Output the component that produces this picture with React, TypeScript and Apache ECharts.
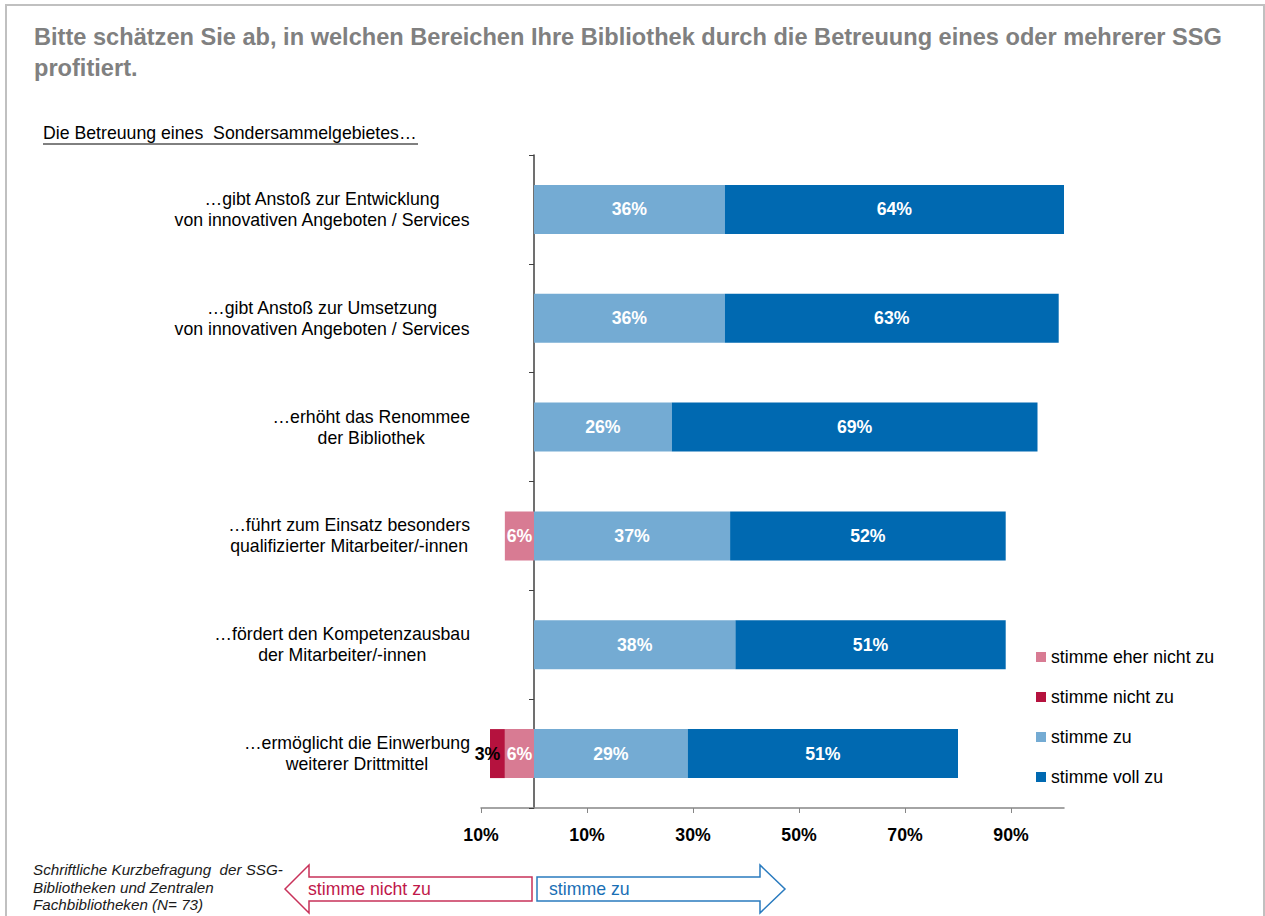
import React, { useEffect, useRef } from 'react';
import * as echarts from 'echarts';

const categories = [
  '…gibt Anstoß zur Entwicklung\nvon innovativen Angeboten / Services',
  '…gibt Anstoß zur Umsetzung\nvon innovativen Angeboten / Services',
  '…erhöht das Renommee\nder Bibliothek',
  '…führt zum Einsatz besonders\nqualifizierter Mitarbeiter/-innen',
  '…fördert den Kompetenzausbau\nder Mitarbeiter/-innen',
  '…ermöglicht die Einwerbung\nweiterer Drittmittel',
];
const seriesNames = ['stimme eher nicht zu', 'stimme nicht zu', 'stimme zu', 'stimme voll zu'];
const eherNichtZu = [null, null, null, -5.5, null, -5.5];
const nichtZu = [null, null, null, null, null, -2.8];
const stimmeZu = [36, 36, 26, 37, 38, 29];
const vollZu = [64, 63, 69, 52, 51, 51];
const xTickValues = [-10, 10, 30, 50, 70, 90];

const titleText =
  'Bitte schätzen Sie ab, in welchen Bereichen Ihre Bibliothek durch die Betreuung eines oder mehrerer SSG\nprofitiert.';
const subtitleText = 'Die Betreuung eines  Sondersammelgebietes…';
const footnoteText = 'Schriftliche Kurzbefragung  der SSG-\nBibliotheken und Zentralen\nFachbibliotheken (N= 73)';

const FONT = '"Liberation Sans", Arial, Helvetica, sans-serif';
const COLORS = ['#d87b93', '#b5123e', '#74abd3', '#0069b1'];

export default function App() {
  const ref = useRef<HTMLDivElement>(null);
  useEffect(() => {
    document.body.style.margin = '0';
    const chart = echarts.init(ref.current!, null, { renderer: 'svg' });
    const fmt = (p: any) => Math.round(Math.abs(p.value)) + '%';
    const valueLabel = {
      show: true,
      position: 'inside',
      color: '#fff',
      fontWeight: 'bold',
      fontSize: 17.7,
      fontFamily: FONT,
      formatter: fmt,
    };
    const dataSets = [eherNichtZu, nichtZu, stimmeZu, vollZu];
    const series = dataSets.map((d, i) => ({
      name: seriesNames[i],
      type: 'bar',
      stack: 'total',
      barWidth: 49,
      data: d,
      itemStyle: { color: COLORS[i] },
      label:
        i === 1
          ? { ...valueLabel, color: '#000', offset: [-10, 0] }
          : valueLabel,
    }));
    chart.setOption({
      animation: false,
      backgroundColor: '#fff',
      color: COLORS,
      title: {
        text: titleText,
        left: 34,
        top: 21,
        padding: 0,
        textStyle: {
          fontFamily: FONT,
          fontSize: 23.6,
          fontWeight: 'bold',
          color: '#808080',
          lineHeight: 31,
        },
      },
      legend: {
        data: seriesNames,
        orient: 'vertical',
        left: 1036,
        top: 648,
        padding: 0,
        itemWidth: 10,
        itemHeight: 10,
        itemGap: 22,
        icon: 'rect',
        selectedMode: false,
        textStyle: { fontFamily: FONT, fontSize: 17.7, color: '#000', lineHeight: 18 },
      },
      grid: { left: 481, right: 201, top: 155, bottom: 108, containLabel: false },
      xAxis: {
        type: 'value',
        min: -10,
        max: 100,
        interval: 10,
        splitLine: { show: false },
        axisLine: { show: true, onZero: false, lineStyle: { color: '#868686', width: 1.5 } },
        axisTick: {
          show: true,
          customValues: xTickValues,
          length: 5,
          lineStyle: { color: '#868686' },
        },
        axisLabel: {
          customValues: xTickValues,
          formatter: (v: number) => Math.abs(v) + '%',
          fontFamily: FONT,
          fontSize: 17.7,
          fontWeight: 'bold',
          color: '#000',
          margin: 18,
        },
      },
      yAxis: {
        type: 'category',
        inverse: true,
        data: categories,
        axisLine: { show: true, onZero: true, lineStyle: { color: '#404040', width: 1.5 } },
        axisTick: { show: true, length: 5, lineStyle: { color: '#404040' } },
        axisLabel: {
          margin: 11,
          align: 'right',
          formatter: (v: string) =>
            v
              .split('\n')
              .map((l) => '{c|' + l + '}')
              .join('\n'),
          rich: {
            c: {
              align: 'center',
              fontFamily: FONT,
              fontSize: 17.7,
              lineHeight: 21,
              color: '#000',
            },
          },
        },
      },
      series,
      graphic: [
        {
          type: 'rect',
          shape: { x: 6, y: 5, width: 1258, height: 1000 },
          style: { fill: 'none', stroke: '#c0c0c0', lineWidth: 2 },
          silent: true,
        },
        {
          type: 'text',
          x: 43,
          y: 133,
          style: {
            text: subtitleText,
            fontFamily: FONT,
            fontSize: 17.7,
            fill: '#000',
            verticalAlign: 'middle',
          },
        },
        {
          type: 'line',
          shape: { x1: 43, y1: 144, x2: 418, y2: 144 },
          style: { stroke: '#000', lineWidth: 1 },
        },
        {
          type: 'text',
          x: 33,
          y: 861,
          style: {
            text: footnoteText,
            fontFamily: FONT,
            fontSize: 15.2,
            fontStyle: 'italic',
            lineHeight: 17.5,
            fill: '#1a1a1a',
            verticalAlign: 'top',
          },
        },
        {
          type: 'polygon',
          shape: {
            points: [
              [285, 889],
              [309, 865],
              [309, 877],
              [532, 877],
              [532, 901],
              [309, 901],
              [309, 913],
            ],
          },
          style: { fill: '#fff', stroke: '#c8325a', lineWidth: 1.5 },
        },
        {
          type: 'text',
          x: 308,
          y: 889,
          style: {
            text: 'stimme nicht zu',
            fontFamily: FONT,
            fontSize: 17.7,
            fill: '#c0184a',
            verticalAlign: 'middle',
          },
        },
        {
          type: 'polygon',
          shape: {
            points: [
              [537, 877],
              [760, 877],
              [760, 865],
              [785, 889],
              [760, 913],
              [760, 901],
              [537, 901],
            ],
          },
          style: { fill: '#fff', stroke: '#2a7bbf', lineWidth: 1.5 },
        },
        {
          type: 'text',
          x: 549,
          y: 889,
          style: {
            text: 'stimme zu',
            fontFamily: FONT,
            fontSize: 17.7,
            fill: '#1a6fb5',
            verticalAlign: 'middle',
          },
        },
      ],
    });
    return () => chart.dispose();
  }, []);
  return (
    <div
      ref={ref}
      style={{ width: 1265, height: 916, position: 'absolute', left: 0, top: 0 }}
    />
  );
}
